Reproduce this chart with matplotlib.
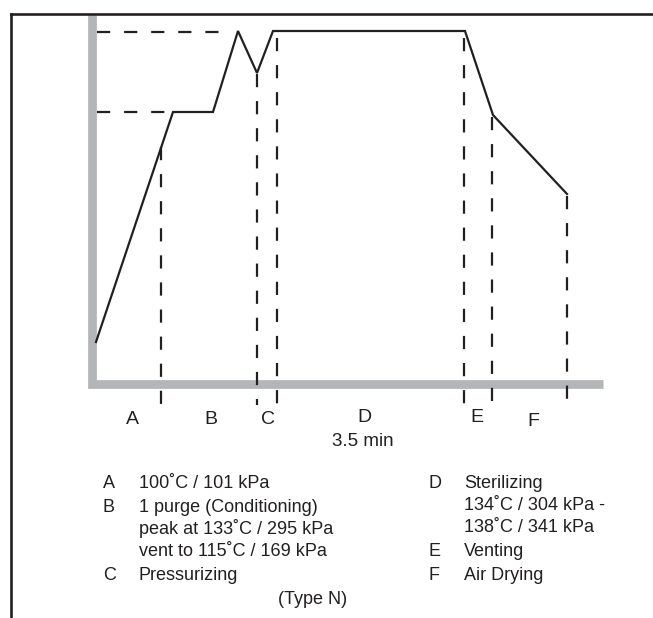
"""
Type N sterilization cycle: schematic pressure / temperature profile
across the cycle phases A-F, with the phase legend underneath.
"""

import matplotlib.pyplot as plt
from matplotlib.lines import Line2D

# Figure size in pixels
W_PX, H_PX = 653, 618
DPI = 100

# Profile vertices (schematic time, schematic level)
time_pts = [0.9, 16.3, 24.3, 29.3, 33.1, 36.3, 74.7, 80.3, 95.1]
level_pts = [8.4, 54.4, 54.4, 70.6, 62.2, 70.6, 70.6, 53.8, 38.0]

# Phase boundaries and the level where each dashed marker starts
phase_bounds = [13.9, 33.1, 37.1, 74.5, 80.1, 95.1]
bound_tops = [47.4, 62.0, 69.2, 69.2, 53.4, 37.6]

# Horizontal reference levels (dashed) and where they stop
ref_levels = [70.4, 54.4]
ref_ends = [25.7, 15.7]

# Phase letters under the time axis
phase_names = ["A", "B", "C", "D", "E", "F"]
phase_label_x = [8.1, 23.9, 35.3, 54.5, 77.1, 88.3]
phase_label_y = [-7.2, -7.2, -7.2, -6.8, -6.6, -7.4]
duration_text = "3.5 min"

# Legend: (letter, text) rows for the two columns
legend_left = [
    ("A", "100˚C / 101 kPa"),
    ("B", "1 purge (Conditioning)"),
    ("", "peak at 133˚C / 295 kPa"),
    ("", "vent to 115˚C / 169 kPa"),
    ("C", "Pressurizing"),
]
legend_right = [
    ("D", "Sterilizing"),
    ("", "134˚C / 304 kPa -"),
    ("", "138˚C / 341 kPa"),
    ("E", "Venting"),
    ("F", "Air Drying"),
]
footer_text = "(Type N)"

INK = "#231f20"
AXIS_GRAY = "#b4b5b8"


def px_to_fig(x, y):
    """Pixel position (from top-left) -> figure fraction."""
    return x / W_PX, 1.0 - y / H_PX


def main():
    plt.rcParams["font.family"] = ["Liberation Sans", "DejaVu Sans"]
    plt.rcParams["lines.scale_dashes"] = False

    fig = plt.figure(figsize=(W_PX / DPI, H_PX / DPI), dpi=DPI)

    # Chart area: origin of the gray axes at (91.5, 384) px, 5 px per unit
    left, bottom = px_to_fig(91.5, 384)
    right, top = px_to_fig(603, 15)
    ax = fig.add_axes([left, bottom, right - left, top - bottom])
    ax.set_xlim(0, 102.3)
    ax.set_ylim(0, 73.8)
    ax.axis("off")

    # Gray L-shaped axes
    ax.plot([0, 0, 102.3], [73.8, 0, 0], color=AXIS_GRAY, lw=6.3,
            solid_capstyle="butt", solid_joinstyle="miter", clip_on=False)

    dash = (0, (9.5, 10.0))

    # Reference levels
    for lvl, x_end in zip(ref_levels, ref_ends):
        ax.plot([1.1, x_end], [lvl, lvl], color=INK, lw=1.6,
                linestyle=dash, clip_on=False)

    # Phase boundaries
    for xb, yt in zip(phase_bounds, bound_tops):
        ax.plot([xb, xb], [yt, -4.2], color=INK, lw=1.6,
                linestyle=dash, clip_on=False)

    # Cycle profile
    ax.plot(time_pts, level_pts, color=INK, lw=1.6,
            solid_joinstyle="miter", clip_on=False)

    # Phase letters and duration
    for name, xl, yl in zip(phase_names, phase_label_x, phase_label_y):
        ax.text(xl, yl, name, ha="center", va="center", fontsize=14,
                color=INK, clip_on=False)
    ax.text(54.3, -11.6, duration_text, ha="center", va="center",
            fontsize=13.5, color=INK, clip_on=False)

    # Legend columns
    rows_left_y = [484, 507, 529, 551, 575]
    rows_right_y = [484, 506, 528, 552, 575]
    for (letter, txt), y in zip(legend_left, rows_left_y):
        if letter:
            fig.text(*px_to_fig(103, y), letter, ha="left", va="center",
                     fontsize=13, color=INK)
        fig.text(*px_to_fig(139, y), txt, ha="left", va="center",
                 fontsize=13, color=INK)
    for (letter, txt), y in zip(legend_right, rows_right_y):
        if letter:
            fig.text(*px_to_fig(429, y), letter, ha="left", va="center",
                     fontsize=13, color=INK)
        fig.text(*px_to_fig(464, y), txt, ha="left", va="center",
                 fontsize=13, color=INK)
    fig.text(*px_to_fig(313, 600), footer_text, ha="center", va="center",
             fontsize=13, color=INK)

    # Frame: top and left border running off the page
    x0, y0 = px_to_fig(10.5, 13.5)
    fig.add_artist(Line2D([x0, 1.01], [y0, y0], color=INK, lw=1.9,
                          transform=fig.transFigure))
    fig.add_artist(Line2D([x0, x0], [-0.01, y0], color=INK, lw=1.9,
                          transform=fig.transFigure))

    fig.savefig("out.png", dpi=DPI)


if __name__ == "__main__":
    main()
